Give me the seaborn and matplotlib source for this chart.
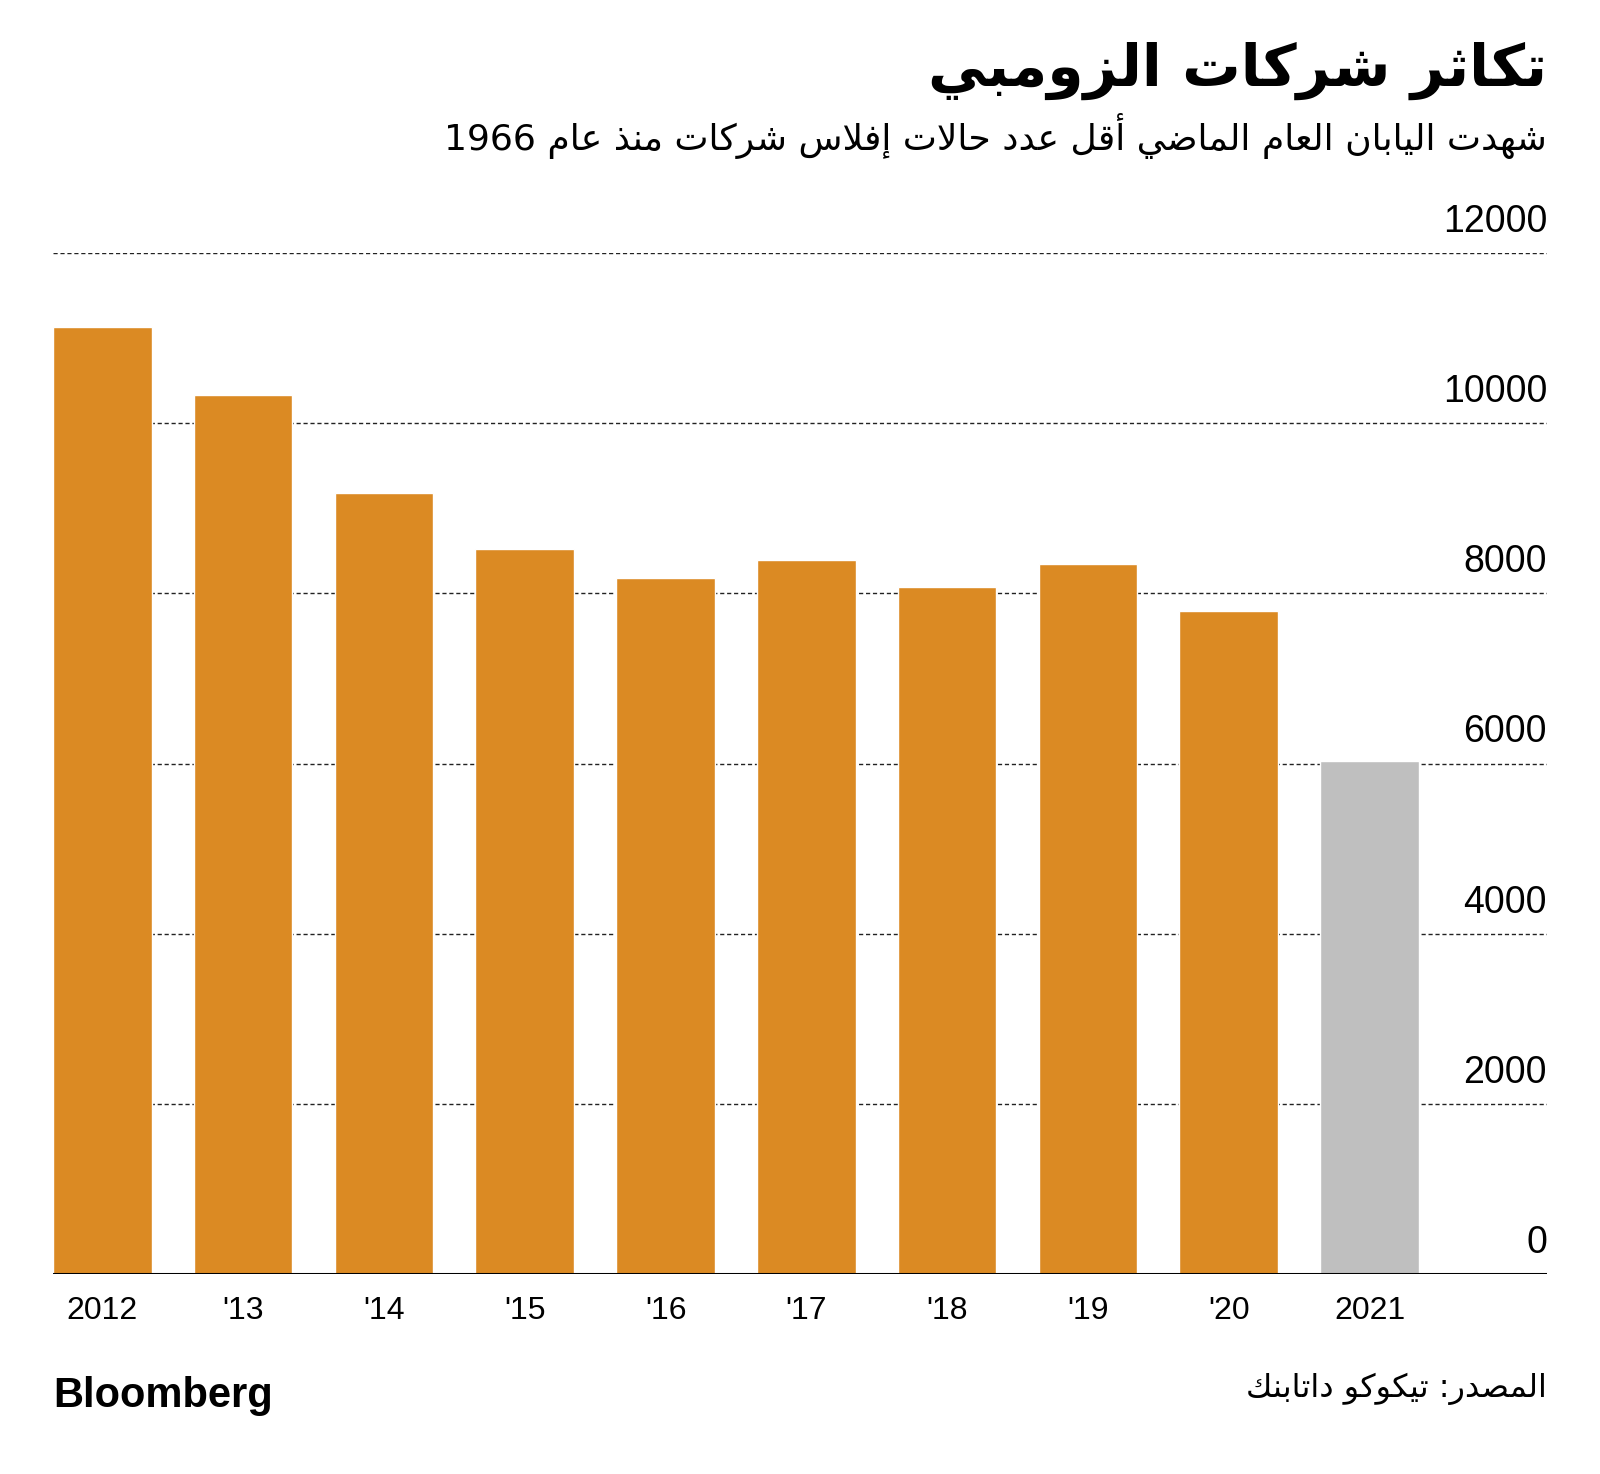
import re
import matplotlib
matplotlib.use("Agg")
import matplotlib.pyplot as plt
import matplotlib.transforms as mtransforms
import seaborn as sns

# Data (corporate bankruptcies in Japan)
years = ["2012", "'13", "'14", "'15", "'16", "'17", "'18", "'19", "'20", "2021"]
bankruptcies = [11130, 10330, 9180, 8520, 8180, 8390, 8080, 8340, 7790, 6030]
bar_colors = ["#DB8A23"] * 9 + ["#BFBFBF"]
y_ticks = [0, 2000, 4000, 6000, 8000, 10000, 12000]

title = "تكاثر شركات الزومبي"
subtitle = "شهدت اليابان العام الماضي أقل عدد حالات إفلاس شركات منذ عام 1966"
source = "المصدر: تيكوكو داتابنك"

# matplotlib has no Arabic shaping, so map letters to presentation forms
# (isolated, final, initial, medial) and lay them out right to left.
FORMS = {
    'ء': (0xFE80, 1), 'آ': (0xFE81, 2), 'أ': (0xFE83, 2), 'ؤ': (0xFE85, 2),
    'إ': (0xFE87, 2), 'ئ': (0xFE89, 4), 'ا': (0xFE8D, 2), 'ب': (0xFE8F, 4),
    'ة': (0xFE93, 2), 'ت': (0xFE95, 4), 'ث': (0xFE99, 4), 'ج': (0xFE9D, 4),
    'ح': (0xFEA1, 4), 'خ': (0xFEA5, 4), 'د': (0xFEA9, 2), 'ذ': (0xFEAB, 2),
    'ر': (0xFEAD, 2), 'ز': (0xFEAF, 2), 'س': (0xFEB1, 4), 'ش': (0xFEB5, 4),
    'ص': (0xFEB9, 4), 'ض': (0xFEBD, 4), 'ط': (0xFEC1, 4), 'ظ': (0xFEC5, 4),
    'ع': (0xFEC9, 4), 'غ': (0xFECD, 4), 'ف': (0xFED1, 4), 'ق': (0xFED5, 4),
    'ك': (0xFED9, 4), 'ل': (0xFEDD, 4), 'م': (0xFEE1, 4), 'ن': (0xFEE5, 4),
    'ه': (0xFEE9, 4), 'و': (0xFEED, 2), 'ى': (0xFEEF, 2), 'ي': (0xFEF1, 4),
}
LAM_ALEF = {'آ': 0xFEF5, 'أ': 0xFEF7, 'إ': 0xFEF9, 'ا': 0xFEFB}


def shape_arabic(text):
    tokens = []
    i = 0
    while i < len(text):
        ch = text[i]
        if ch == 'ل' and i + 1 < len(text) and text[i + 1] in LAM_ALEF:
            tokens.append((LAM_ALEF[text[i + 1]], 2))
            i += 2
            continue
        tokens.append(FORMS.get(ch, ch))
        i += 1
    out = []
    for k, tok in enumerate(tokens):
        if isinstance(tok, str):
            out.append(tok)
            continue
        base, n = tok
        prev = tokens[k - 1] if k > 0 else None
        nxt = tokens[k + 1] if k + 1 < len(tokens) else None
        join_prev = n >= 2 and isinstance(prev, tuple) and prev[1] == 4
        join_next = n == 4 and isinstance(nxt, tuple) and nxt[1] >= 2
        if join_prev and join_next:
            idx = 3
        elif join_prev:
            idx = 1
        elif join_next:
            idx = 2
        else:
            idx = 0
        out.append(chr(base + idx))
    visual = "".join(reversed(out))
    return re.sub(r"[0-9A-Za-z]+", lambda m: m.group(0)[::-1], visual)


sns.set_style("white")
plt.rcParams["font.family"] = ["Liberation Sans", "DejaVu Sans"]

W, H = 1600, 1474
fig = plt.figure(figsize=(16, 14.74), dpi=100)
ax = fig.add_axes([53 / W, 1 - 1274 / H, 1494 / W, (1274 - 253) / H])

sns.barplot(x=years, y=bankruptcies, hue=years, palette=bar_colors,
            legend=False, width=0.7, saturation=1, ax=ax, zorder=3)

ax.set_xlim(-0.35, 10.26)
ax.set_ylim(0, 12000)
ax.set_yticks(y_ticks)
ax.set_yticklabels([])
ax.yaxis.grid(True, color="#222222", linestyle=(0, (3, 2)), linewidth=1.0, zorder=0)
ax.xaxis.grid(False)
ax.set_axisbelow(True)
ax.axhline(0, color="black", linewidth=2.2, zorder=4)
for s in ax.spines.values():
    s.set_visible(False)

ax.set_xlabel("")
ax.set_ylabel("")
ax.tick_params(axis="x", length=0, pad=16, labelsize=23, colors="black")
ax.tick_params(axis="y", length=0)

# y labels sit above their gridlines, flush right
trans = mtransforms.blended_transform_factory(ax.transAxes, ax.transData)
offset = mtransforms.ScaledTranslation(0, 13 / 100, fig.dpi_scale_trans)
for t in y_ticks:
    ax.text(1.0, t, str(t), transform=trans + offset, ha="right", va="bottom",
            fontsize=27, color="black")

fig.text(1547 / W, 1 - 86 / H, shape_arabic(title), ha="right", va="baseline",
         fontsize=42, fontweight="bold", family="DejaVu Sans", color="black")
fig.text(1547 / W, 1 - 150 / H, shape_arabic(subtitle), ha="right", va="baseline",
         fontsize=26, family="DejaVu Sans", color="black")
fig.text(1547 / W, 1 - 1397 / H, shape_arabic(source), ha="right", va="baseline",
         fontsize=23, family="DejaVu Sans", color="black")
fig.text(53 / W, 1 - 1407 / H, "Bloomberg", ha="left", va="baseline",
         fontsize=30, fontweight="bold", color="black")

fig.savefig("out.png", dpi=100, facecolor="white")
